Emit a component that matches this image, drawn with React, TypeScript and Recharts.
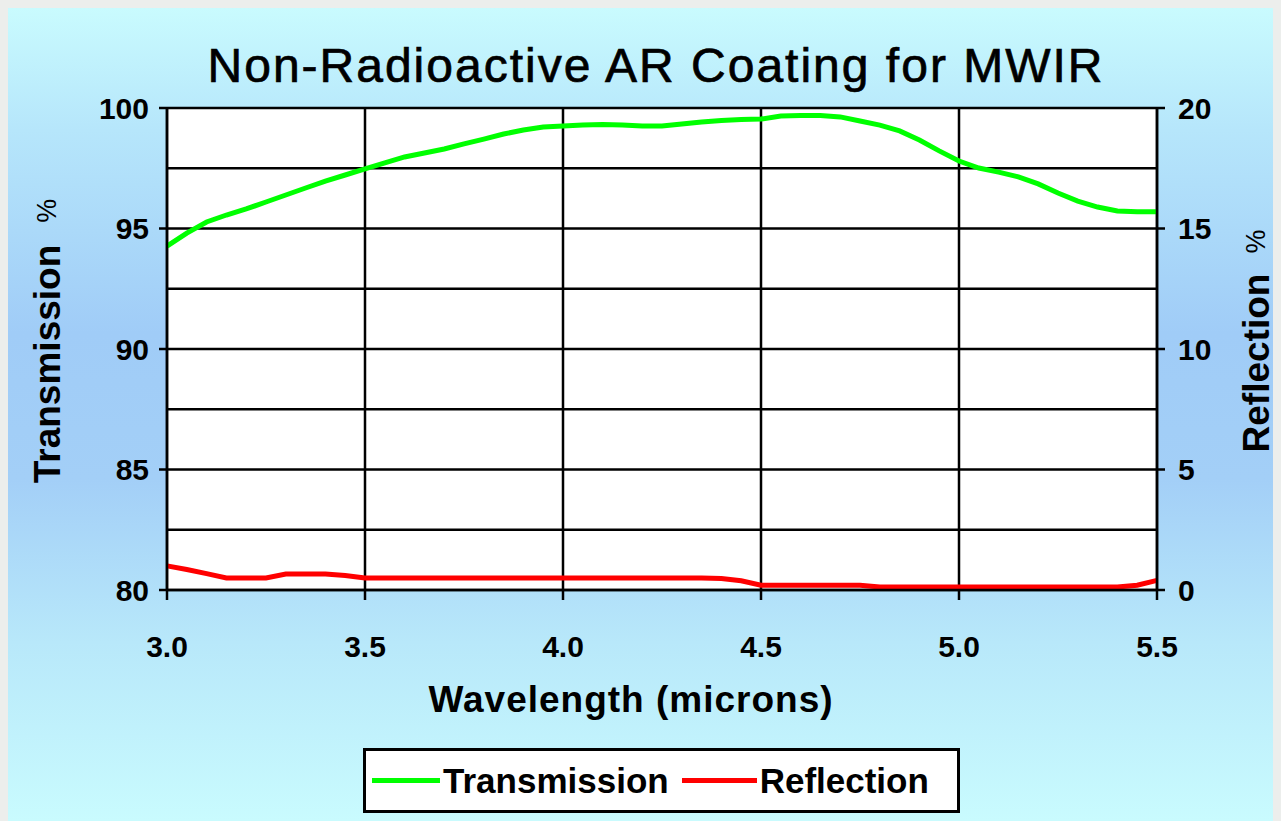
import { LineChart, Line, XAxis, YAxis, CartesianGrid, Legend } from 'recharts';

// wavelength in microns, sampled every 0.05
const wavelengths = [
  3.0, 3.05, 3.1, 3.15, 3.2, 3.25, 3.3, 3.35, 3.4, 3.45,
  3.5, 3.55, 3.6, 3.65, 3.7, 3.75, 3.8, 3.85, 3.9, 3.95,
  4.0, 4.05, 4.1, 4.15, 4.2, 4.25, 4.3, 4.35, 4.4, 4.45,
  4.5, 4.55, 4.6, 4.65, 4.7, 4.75, 4.8, 4.85, 4.9, 4.95,
  5.0, 5.05, 5.1, 5.15, 5.2, 5.25, 5.3, 5.35, 5.4, 5.45, 5.5,
];

const transmission = [
  94.27, 94.81, 95.27, 95.56, 95.81, 96.1, 96.39, 96.68, 96.97, 97.22,
  97.47, 97.72, 97.97, 98.13, 98.3, 98.51, 98.71, 98.92, 99.09, 99.21,
  99.25, 99.29, 99.32, 99.29, 99.25, 99.25, 99.34, 99.42, 99.48, 99.52,
  99.54, 99.67, 99.69, 99.69, 99.63, 99.46, 99.29, 99.05, 98.67, 98.22,
  97.8, 97.51, 97.34, 97.14, 96.85, 96.47, 96.14, 95.89, 95.73, 95.69, 95.69,
];

const reflection = [
  1.0, 0.85, 0.68, 0.5, 0.5, 0.5, 0.66, 0.66, 0.66, 0.6,
  0.5, 0.5, 0.5, 0.5, 0.5, 0.5, 0.5, 0.5, 0.5, 0.5,
  0.5, 0.5, 0.5, 0.5, 0.5, 0.5, 0.5, 0.5, 0.48, 0.38,
  0.2, 0.2, 0.2, 0.2, 0.2, 0.2, 0.12, 0.12, 0.12, 0.12,
  0.12, 0.12, 0.12, 0.12, 0.12, 0.12, 0.12, 0.12, 0.12, 0.2, 0.4,
];

const xTicks = [3.0, 3.5, 4.0, 4.5, 5.0, 5.5];
const leftTicks = [80, 85, 90, 95, 100];
const rightTicks = [0, 5, 10, 15, 20];
const gridValues = [80, 82.5, 85, 87.5, 90, 92.5, 95, 97.5, 100];

const data = wavelengths.map((w, i) => ({
  wavelength: w,
  transmission: transmission[i],
  reflection: reflection[i],
}));

const FONT = '"Liberation Sans", Arial, sans-serif';
const tickStyle = { fill: '#000', fontSize: 30, fontWeight: 'bold', fontFamily: FONT };

function LegendBox() {
  const text = { fontFamily: FONT, fontWeight: 'bold' as const, fontSize: 35, color: '#000' };
  return (
    <div
      style={{
        boxSizing: 'border-box',
        width: 597,
        height: 65,
        background: '#fff',
        border: '3px solid #000',
        display: 'flex',
        alignItems: 'center',
        paddingLeft: 6,
      }}
    >
      <div style={{ width: 68, height: 5, background: '#00ff00', marginRight: 3 }} />
      <span style={text}>Transmission</span>
      <div style={{ width: 75, height: 5, background: '#ff0000', marginLeft: 13, marginRight: 3 }} />
      <span style={text}>Reflection</span>
    </div>
  );
}

export default function App() {
  return (
    <div
      style={{
        position: 'relative',
        width: 1273,
        height: 813,
        background:
          'linear-gradient(180deg, #c9fbfe 0%, #b6e6fb 15%, #a0ccf7 40%, #a3cff7 58%, #b8e8fa 78%, #c9fbfe 100%)',
      }}
    >
      <style>{`body{background:#eceeec}`}</style>
      <LineChart
        width={1273}
        height={813}
        data={data}
        margin={{ top: 100, left: 59, right: 44, bottom: 181 }}
      >
        <text
          x={648}
          y={74}
          textAnchor="middle"
          stroke="#000"
          strokeWidth={0.7}
          style={{ fontFamily: FONT, fontSize: 48, letterSpacing: 2, fill: '#000' }}
        >
          Non-Radioactive AR Coating for MWIR
        </text>
        <CartesianGrid
          yAxisId="left"
          horizontalValues={gridValues}
          stroke="#000"
          strokeWidth={2.5}
          fill="#fff"
          fillOpacity={1}
          strokeOpacity={1}
        />
        <XAxis
          dataKey="wavelength"
          type="number"
          domain={[3, 5.5]}
          ticks={xTicks}
          tickFormatter={(v: number) => v.toFixed(1)}
          tick={tickStyle}
          tickSize={10}
          tickMargin={36}
          height={50}
          stroke="#000"
          strokeWidth={2.5}
          label={(props: any) => {
            const vb = props.viewBox;
            return (
              <text
                x={vb.x + vb.width / 2 - 31}
                y={vb.y + 122}
                textAnchor="middle"
                style={{ fontFamily: FONT, fontWeight: 'bold', fontSize: 37, letterSpacing: 1, fill: '#000' }}
              >
                Wavelength (microns)
              </text>
            );
          }}
        />
        <YAxis
          yAxisId="left"
          domain={[80, 100]}
          ticks={leftTicks}
          tick={tickStyle}
          tickSize={8}
          tickMargin={10}
          width={100}
          stroke="#000"
          strokeWidth={2.5}
          label={(props: any) => {
            const vb = props.viewBox;
            const cx = vb.x - 20;
            const cy = vb.y + vb.height / 2 - 8;
            return (
              <text
                x={cx}
                y={cy}
                transform={`rotate(-90, ${cx}, ${cy})`}
                textAnchor="middle"
                dominantBaseline="central"
                style={{ fontFamily: FONT, fontWeight: 'bold', fontSize: 37, fill: '#000' }}
              >
                Transmission
                <tspan dx={22} style={{ fontWeight: 'normal', fontSize: 27 }}>%</tspan>
              </text>
            );
          }}
        />
        <YAxis
          yAxisId="right"
          orientation="right"
          domain={[0, 20]}
          ticks={rightTicks}
          tick={tickStyle}
          tickSize={8}
          tickMargin={13}
          width={80}
          stroke="#000"
          strokeWidth={2.5}
          label={(props: any) => {
            const vb = props.viewBox;
            const cx = 1248;
            const cy = vb.y + vb.height / 2 - 8;
            return (
              <text
                x={cx}
                y={cy}
                transform={`rotate(-90, ${cx}, ${cy})`}
                textAnchor="middle"
                dominantBaseline="central"
                style={{ fontFamily: FONT, fontWeight: 'bold', fontSize: 37, fill: '#000' }}
              >
                Reflection
                <tspan dx={20} style={{ fontWeight: 'normal', fontSize: 27 }}>%</tspan>
              </text>
            );
          }}
        />
        <Line
          yAxisId="left"
          type="linear"
          dataKey="transmission"
          name="Transmission"
          stroke="#00ff00"
          strokeWidth={5}
          dot={false}
          isAnimationActive={false}
        />
        <Line
          yAxisId="right"
          type="linear"
          dataKey="reflection"
          name="Reflection"
          stroke="#ff0000"
          strokeWidth={5}
          dot={false}
          isAnimationActive={false}
        />
        <Legend
          layout="horizontal"
          verticalAlign="middle"
          content={() => <LegendBox />}
          wrapperStyle={{ left: 355, top: 740, width: 597, height: 65 }}
        />
      </LineChart>
    </div>
  );
}
